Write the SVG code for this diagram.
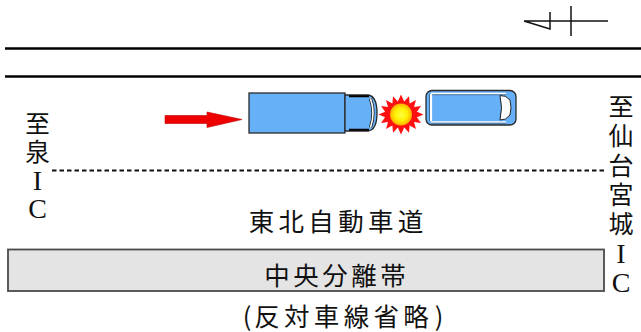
<svg xmlns="http://www.w3.org/2000/svg" width="641" height="332" viewBox="0 0 641 332">
  <style>
    .jp { font-family: "Noto Sans CJK JP", "Noto Sans", sans-serif; fill: #111; text-anchor: middle; dominant-baseline: central; }
    .col { font-family: "Liberation Sans", "Noto Sans CJK JP", sans-serif; fill: #111; text-anchor: middle; dominant-baseline: central; }
    .rom { font-family: "Liberation Serif", "Times New Roman", serif; font-size: 28px; fill: #111; text-anchor: middle; dominant-baseline: central; }
    .edge { stroke: #000; stroke-width: 2.6; fill: none; }
    .thin { stroke: #111; stroke-width: 1.5; fill: none; }
    .body { fill: #66b0f8; stroke: #2a2a2a; stroke-width: 1.3; }
  </style>
  <defs>
    <radialGradient id="fire" cx="0.5" cy="0.5" r="0.5">
      <stop offset="0" stop-color="#ffff40"/>
      <stop offset="0.6" stop-color="#ffee00"/>
      <stop offset="1" stop-color="#ffaa00"/>
    </radialGradient>
  </defs>

  <!-- north arrow -->
  <g id="north">
    <path class="thin" d="M524,21 H608 M571,6 V36 M524,21 L550,29 V12"/>
  </g>

  <!-- road edges and lane line -->
  <g id="road">
    <line class="edge" x1="5" y1="48.5" x2="641" y2="48.5"/>
    <line class="edge" x1="5" y1="76.5" x2="641" y2="76.5"/>
    <line x1="52" y1="170.5" x2="605" y2="170.5" stroke="#111" stroke-width="1.8" stroke-dasharray="4.5 3"/>
  </g>

  <!-- direction arrow -->
  <g id="arrow">
    <polygon points="165,115.5 207,115.5 207,112 242,119.5 207,127.5 207,123.5 165,123.5" fill="#ee0000" stroke="#c00000" stroke-width="0.6"/>
  </g>

  <!-- truck -->
  <g id="truck">
    <rect class="body" x="249" y="93" width="96" height="40" stroke="#555"/>
    <path class="body" d="M345,95 H368 Q377,96 377,113 Q377,130 368,131 H345 Z"/>
    <path d="M349,96.2 H369 M349,129.8 H369" stroke="#000" stroke-width="2"/>
    <path d="M370.5,98.5 Q375.5,113 370.5,127.5" stroke="#222" stroke-width="3.2" fill="none"/>
    <path d="M370.5,98.5 Q375.5,113 370.5,127.5" stroke="#fff" stroke-width="1.6" fill="none"/>
  </g>

  <!-- impact -->
  <g id="impact">
    <polygon fill="#ff1010" points="401.0,94.5 404.2,101.4 409.0,96.2 409.6,103.5 416.0,100.1 414.0,107.1 421.0,106.0 416.9,111.8 423.5,114.5 416.9,117.2 421.0,123.0 414.0,121.9 416.0,128.9 409.6,125.5 409.0,132.8 404.2,127.6 401.0,134.5 397.8,127.6 393.0,132.8 392.4,125.5 386.0,128.9 388.0,121.9 381.0,123.0 385.1,117.2 378.5,114.5 385.1,111.8 381.0,106.0 388.0,107.1 386.0,100.1 392.4,103.5 393.0,96.2 397.8,101.4"/>
    <circle cx="401" cy="114.5" r="11" fill="url(#fire)"/>
  </g>

  <!-- van -->
  <g id="van">
    <rect class="body" x="426" y="90.5" width="90" height="34.5" rx="6" stroke="#1b2b45"/>
    <path d="M431,93.5 H506 M431,122 H506" stroke="#fff" stroke-width="1.3"/>
    <path d="M431,93.5 H506 M431,122 H506" stroke="#333" stroke-width="0.5" transform="translate(0,1.2)"/>
    <path d="M431,94 V121" stroke="#fff" stroke-width="2.2"/>
    <path d="M429.5,94 V121" stroke="#333" stroke-width="0.6"/>
    <path d="M500,95.5 Q506,95 510,100 Q512,107.5 510,115 Q506,120.5 500,120 Q503,107.5 500,95.5 Z" fill="#fff" stroke="#222" stroke-width="1"/>
  </g>

  <!-- place labels, one character per line -->
  <g id="label-izumi">
    <text class="col" font-size="24.5" x="37.5" y="124.5">至</text>
    <text class="col" font-size="24.5" x="37.5" y="152">泉</text>
    <text class="rom" x="37.5" y="180.5">I</text>
    <text class="rom" x="37.5" y="208.5">C</text>
  </g>
  <g id="label-sendai">
    <text class="col" font-size="25" x="621" y="107">至</text>
    <text class="col" font-size="25" x="621" y="136">仙</text>
    <text class="col" font-size="25" x="621" y="165.5">台</text>
    <text class="col" font-size="25" x="621" y="195">宮</text>
    <text class="col" font-size="25" x="621" y="224">城</text>
    <text class="rom" x="621" y="253.5">I</text>
    <text class="rom" x="621" y="282.5">C</text>
  </g>

  <g id="label-road">
    <text class="jp" font-size="25.5" x="261.5 291.3 321.1 350.9 380.7 410.5" y="219.5">東北自動車道</text>
  </g>

  <!-- median strip -->
  <g id="median">
    <rect x="8" y="249.5" width="596" height="41.5" fill="#e4e4e4" stroke="#4a4a4a" stroke-width="1.8"/>
    <text class="jp" font-size="25.5" x="277 306 335 364 393" y="273.5">中央分離帯</text>
  </g>
  <g id="label-note">
    <text class="jp" font-size="25.5" x="247 267 296.8 326.6 356.4 386.2 416 439" y="314.5">(反対車線省略)</text>
  </g>
</svg>
